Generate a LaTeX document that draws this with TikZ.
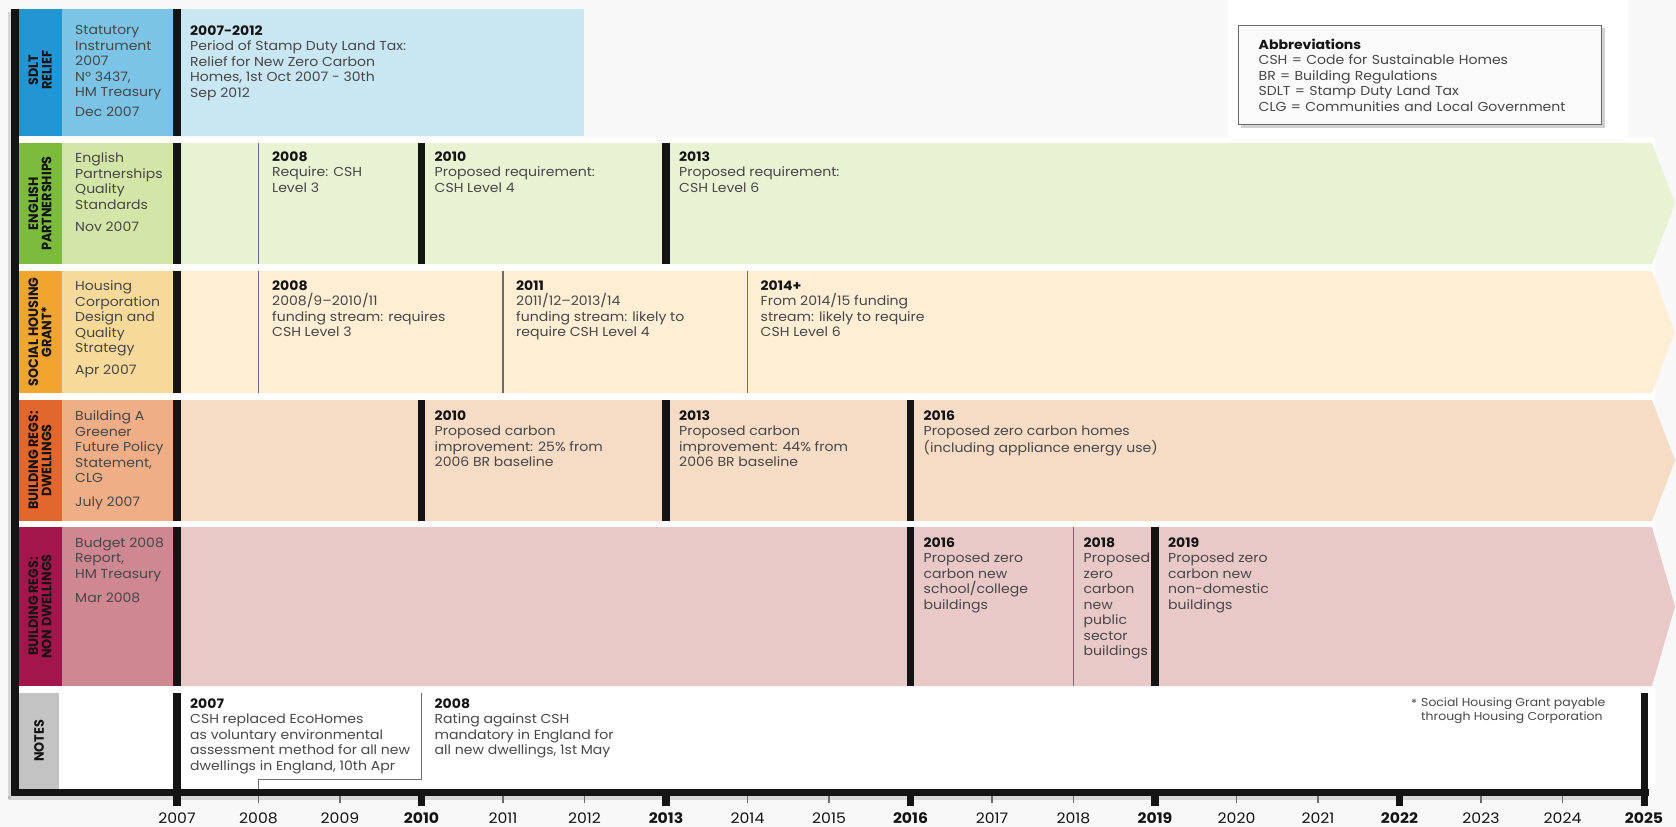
\documentclass[tikz,border=0pt]{standalone}
\usepackage{fontspec}
\setmainfont{Poppins}[FakeStretch=1.08]
\definecolor{sdltD}{HTML}{2196D3}
\definecolor{sdltL}{HTML}{7CC4E6}
\definecolor{sdltM}{HTML}{C9E7F2}
\definecolor{epD}{HTML}{7DBB3E}
\definecolor{epL}{HTML}{D3E6A7}
\definecolor{epM}{HTML}{E9F3D4}
\definecolor{shD}{HTML}{F0A52E}
\definecolor{shL}{HTML}{F7D999}
\definecolor{shM}{HTML}{FDEED4}
\definecolor{brdD}{HTML}{E1672C}
\definecolor{brdL}{HTML}{F0AE87}
\definecolor{brdM}{HTML}{F7DCC5}
\definecolor{brnD}{HTML}{A3164B}
\definecolor{brnL}{HTML}{CF8892}
\definecolor{brnM}{HTML}{E8C9C8}
\definecolor{noteD}{HTML}{C3C3C3}
\definecolor{txt}{HTML}{474747}
\definecolor{ink}{HTML}{141414}
\definecolor{bg}{HTML}{F8F8F8}
\definecolor{boxc}{HTML}{6A6A6A}
\newcommand\mkrow[5]{%
  \fill[#3] (19,#1) rectangle (62,#2);
  \fill[#4] (62,#1) rectangle (173,#2);
  \fill[#5] (181,#1) -- (1652,#1) -- (1675,{(#1+#2)/2}) -- (1652,#2) -- (181,#2) -- cycle;
  \fill[ink] (173,#1) rectangle (181,#2);}
\newcommand\tbar[3]{\fill[ink] ({#1-3.8},#2) rectangle ({#1+3.8},#3);}
\newcommand\tline[3]{\draw[thinl] (#1,#2) -- (#1,#3);}
\newcommand\hd[1]{\textcolor{ink}{\bfseries #1}}
\begin{document}
\begin{tikzpicture}[x=1pt,y=-1pt,
  body/.style={anchor=north west, inner sep=0pt, align=left, text=txt,
    font=\fontsize{13}{15.5}\selectfont},
  rowlab/.style={rotate=90, yscale=1.15, inner sep=0pt, align=center, text=ink,
    font=\bfseries\fontsize{11.8}{11.6}\selectfont},
  yearlab/.style={inner sep=0pt, text=ink, font=\fontsize{14.5}{16}\selectfont},
  thinl/.style={draw=txt!80, line width=1.1pt}]
\useasboundingbox (0,0) rectangle (1676,827);
\fill[bg] (0,0) rectangle (1676,827);
\fill[white] (1228,0) rectangle (1628,137);
\fill[white] (11,137) rectangle (1655,789);
% rows
\fill[sdltD] (19,9) rectangle (62,136);
\fill[sdltL] (62,9) rectangle (173,136);
\fill[sdltM] (181,9) rectangle (584,136);
\fill[ink] (173,9) rectangle (181,136);
\mkrow{143}{264}{epD}{epL}{epM}
\mkrow{271}{393}{shD}{shL}{shM}
\mkrow{400}{521}{brdD}{brdL}{brdM}
\mkrow{527}{686}{brnD}{brnL}{brnM}
\fill[noteD] (19,693) rectangle (59,789);
\fill[white] (59,693) rectangle (1640,789);
% year markers in rows
\tline{258.5}{143}{264}
\tbar{421.5}{143}{264}
\tbar{666}{143}{264}
\tline{258.5}{271}{393}
\tline{503}{271}{393}
\tline{747.5}{271}{393}
\tbar{421.5}{400}{521}
\tbar{666}{400}{521}
\tbar{910.5}{400}{521}
\tbar{910.5}{527}{686}
\tline{1073.5}{527}{686}
\tbar{1155}{527}{686}
% frame and axis
\fill[black, opacity=0.13] (8,12) rectangle (11,799);
\fill[black, opacity=0.13] (8,796) rectangle (1646,800);
\fill[ink] (11,9) rectangle (19,796);
\fill[ink] (11,789) rectangle (1649,796);
\tbar{177}{693}{806}
\tbar{1644.5}{693}{806}
\foreach \i in {1,2,4,5,7,8,10,11,13,14,16,17}{
  \draw[thinl] ({177+81.5*\i},796) -- ({177+81.5*\i},803);}
\foreach \i in {3,6,9,12,15}{
  \fill[ink] ({177+81.5*\i-3.8},796) rectangle ({177+81.5*\i+3.8},806);}
\foreach \i in {0,1,2,4,5,7,8,10,11,13,14,16,17}{
  \pgfmathtruncatemacro\yr{2007+\i}
  \node[yearlab] (yr\i) at ({177+81.5*\i},818) {\yr};}
\foreach \i in {3,6,9,12,15,18}{
  \pgfmathtruncatemacro\yr{2007+\i}
  \node[yearlab, font=\bfseries\fontsize{14.5}{16}\selectfont] (yr\i) at ({177+81.5*\i},818) {\yr};}
% note connector
\coordinate (nc1) at (421.5,693);
\coordinate (nc2) at (421.5,779);
\coordinate (nc3) at (258.5,779);
\coordinate (nc4) at (258.5,789);
\draw[draw=txt!80, line width=1pt] (nc1) -- (nc2) -- (nc3) -- (nc4);
% row labels
\node[rowlab] (lsdlt) at (40,70) {SDLT\\RELIEF};
\node[rowlab] (lep) at (40,203.5) {ENGLISH\\PARTNERSHIPS};
\node[rowlab] (lsh) at (40,332) {SOCIAL HOUSING\\GRANT*};
\node[rowlab] (lbrd) at (40,460.5) {BUILDING REGS:\\DWELLINGS};
\node[rowlab] (lbrn) at (40,606.5) {BUILDING REGS:\\NON DWELLINGS};
\node[rowlab] (lnotes) at (39,741) {NOTES};
% source column
\node[body] (ssdlt) at (75,25.5) {Statutory\\Instrument\\2007\\Nº 3437,\\HM Treasury};
\node[body] (dsdlt) at (75,106.5) {Dec 2007};
\node[body] (sep) at (75,152.5) {English\\Partnerships\\Quality\\Standards};
\node[body] (dep) at (75,222) {Nov 2007};
\node[body] (ssh) at (75,280.5) {Housing\\Corporation\\Design and\\Quality\\Strategy};
\node[body] (dsh) at (75,365) {Apr 2007};
\node[body] (sbrd) at (75,410.5) {Building A\\Greener\\Future Policy\\Statement,\\CLG};
\node[body] (dbrd) at (75,497) {July 2007};
\node[body] (sbrn) at (75,537.5) {Budget 2008\\Report,\\HM Treasury};
\node[body] (dbrn) at (75,593) {Mar 2008};
% events
\node[body] (e1) at (190,25.5) {\hd{2007-2012}\\Period of Stamp Duty Land Tax:\\Relief for New Zero Carbon\\Homes, 1st Oct 2007 - 30th\\Sep 2012};
\node[body] (e2) at (272,151.5) {\hd{2008}\\Require: CSH\\Level 3};
\node[body] (e3) at (434.5,151.5) {\hd{2010}\\Proposed requirement:\\CSH Level 4};
\node[body] (e4) at (679,151.5) {\hd{2013}\\Proposed requirement:\\CSH Level 6};
\node[body] (e5) at (272,280.5) {\hd{2008}\\2008/9–2010/11\\funding stream: requires\\CSH Level 3};
\node[body] (e6) at (516,280.5) {\hd{2011}\\2011/12–2013/14\\funding stream: likely to\\require CSH Level 4};
\node[body] (e7) at (760.5,280.5) {\hd{2014+}\\From 2014/15 funding\\stream: likely to require\\CSH Level 6};
\node[body] (e8) at (434.5,410.5) {\hd{2010}\\Proposed carbon\\improvement: 25\% from\\2006 BR baseline};
\node[body] (e9) at (679,410.5) {\hd{2013}\\Proposed carbon\\improvement: 44\% from\\2006 BR baseline};
\node[body] (e10) at (923.5,410.5) {\hd{2016}\\Proposed zero carbon homes\\(including appliance energy use)};
\node[body] (e11) at (923.5,537.5) {\hd{2016}\\Proposed zero\\carbon new\\school/college\\buildings};
\node[body] (e12) at (1083.5,537.5) {\hd{2018}\\Proposed\\zero\\carbon\\new\\public\\sector\\buildings};
\node[body] (e13) at (1168,537.5) {\hd{2019}\\Proposed zero\\carbon new\\non-domestic\\buildings};
\node[body] (n1) at (190,698.5) {\hd{2007}\\CSH replaced EcoHomes\\as voluntary environmental\\assessment method for all new\\dwellings in England, 10th Apr};
\node[body] (n2) at (434.5,698.5) {\hd{2008}\\Rating against CSH\\mandatory in England for\\all new dwellings, 1st May};
\node[body, font=\fontsize{11.5}{14}\selectfont] (fnstar) at (1411,699) {*};
\node[body, font=\fontsize{11.5}{14}\selectfont] (fntext) at (1421,697.5) {Social Housing Grant payable\\through Housing Corporation};
% abbreviations
\fill[black, opacity=0.18] (1241,28) rectangle (1605,128);
\node[draw=boxc, line width=1.3pt, fill=white!98!black, anchor=north west,
  minimum width=363, minimum height=99, text width=323, inner xsep=20pt,
  align=left, text=txt, font=\fontsize{13}{15.5}\selectfont] (abbr) at (1238,25)
  {\hd{Abbreviations}\\CSH = Code for Sustainable Homes\\BR = Building Regulations\\SDLT = Stamp Duty Land Tax\\CLG = Communities and Local Government};
\end{tikzpicture}
\end{document}
